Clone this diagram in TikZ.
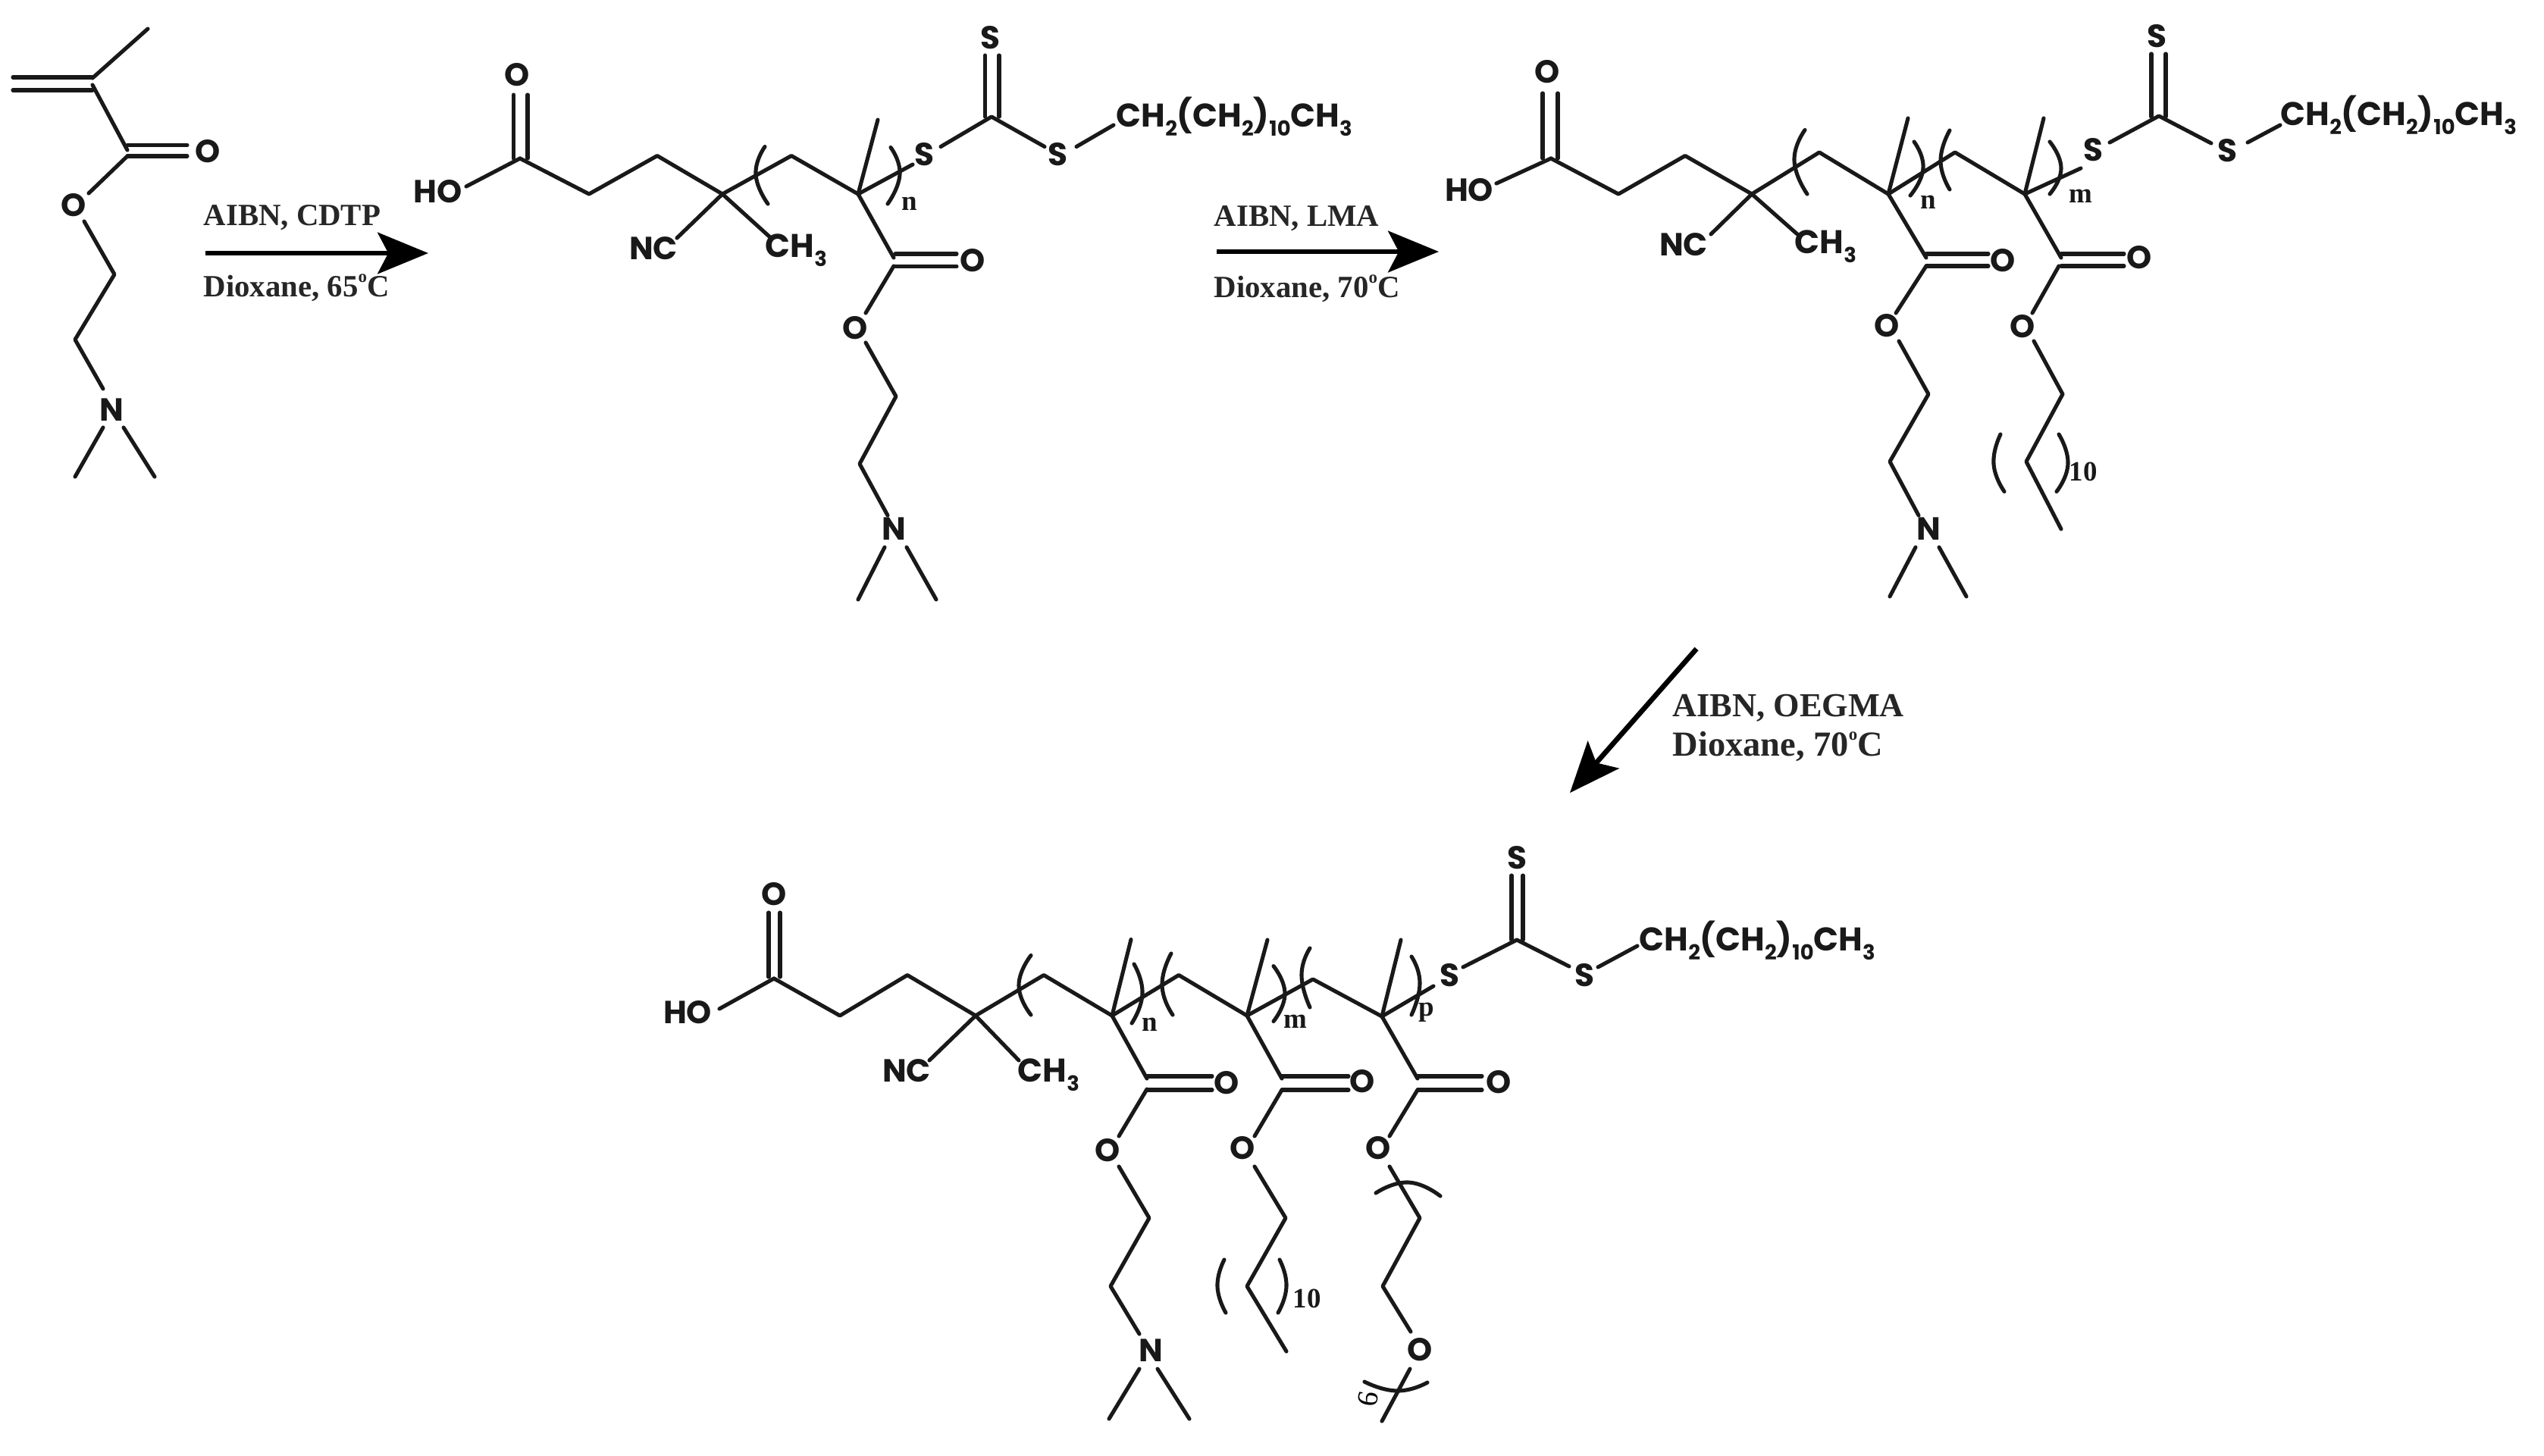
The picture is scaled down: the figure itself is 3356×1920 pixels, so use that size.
\documentclass[tikz,border=0pt]{standalone}
\usepackage{fontspec}
\usetikzlibrary{arrows.meta}
\setmainfont{Liberation Serif}
\newfontfamily\atomfam{Poppins}
\newcommand{\sbs}[1]{\raisebox{-0.3em}{\fontsize{7.8}{8}\selectfont #1}}
\newcommand{\dg}{\raisebox{0.45em}{\fontsize{6.5}{6.5}\selectfont o}}
\tikzset{
  bond/.style={line width=1.45pt,line cap=round,line join=round,draw=black!90},
  atom/.style={font=\atomfam\bfseries\fontsize{12}{12}\selectfont,inner sep=0pt,text=black!90},
  chain/.style={font=\atomfam\bfseries\fontsize{12.3}{12.3}\selectfont,inner sep=0pt,text=black!90,anchor=base west},
  rep/.style={font=\fontsize{10.5}{10.5}\selectfont\bfseries,inner sep=0pt,text=black!90},
  cond/.style={font=\fontsize{11.6}{11.6}\selectfont\bfseries,inner sep=0pt,anchor=base west,text=black!85},
  condb/.style={font=\fontsize{12.6}{12.6}\selectfont\bfseries,inner sep=0pt,anchor=base west,text=black!85},
  condc/.style={font=\fontsize{13.2}{13.2}\selectfont\bfseries,inner sep=0pt,anchor=base west,text=black!85},
  rxn/.style={line width=1.9pt,draw=black,-{Stealth[length=19pt,width=15.5pt,inset=4pt]}},
}
\newcommand{\paren}[3]{\draw[bond] plot[smooth,tension=0.9] coordinates {#1 #2 #3};}
\begin{document}
\begin{tikzpicture}[x=0.01cm,y=-0.01cm]
\useasboundingbox (0,0) rectangle (3356,1920);
\fill[white] (0,0) rectangle (3356,1920);

% ---------- monomer ----------
\draw[bond] (17,102)--(122,102) (17,119)--(122,119);
\draw[bond] (122,103)--(195,38);
\draw[bond] (122,112)--(168,198);
\draw[bond] (168,191.5)--(247,191.5) (168,206)--(247,206);
\draw[bond] (168,206)--(117,255);
\draw[bond] (111,292)--(151,362)--(99,448)--(136,513);
\draw[bond] (136,564)--(99,629) (163,564)--(204,629);
\node[atom] (m1o1) at (274,200) {O};
\node[atom] (m1o2) at (97,271) {O};
\node[atom] (m1n) at (147,541) {N};

% ---------- arrow 1 ----------
\coordinate (a1s) at (271,334); \coordinate (a1e) at (565,334);
\draw[rxn] (a1s)--(a1e);
\node[cond] (c1a) at (268,297) {AIBN, CDTP};
\node[cond] (c1b) at (268,391) {Dioxane, 65\dg C};

% ---------- polymer 1 ----------
\draw[bond] (615,246)--(686,209);
\draw[bond] (677.5,125)--(677.5,209) (696,125)--(696,209);
\draw[bond] (686,209)--(777,256)--(867,205.5)--(953,256)--(1044,205.5)--(1132,256)--(1204,217);
\draw[bond] (1132,256)--(1158,158);
\paren{(1009,193.5)}{(997,230)}{(1013,269)}
\paren{(1175,194.5)}{(1187,230)}{(1171,269)}
\node[rep] (p1n) at (1200,269) {n};
\draw[bond] (953,256)--(893,314) (953,256)--(1017,314);
\draw[bond] (1132,256)--(1179,340);
\draw[bond] (1181,335)--(1262,335) (1181,351.5)--(1262,351.5);
\draw[bond] (1179,351)--(1142,413);
\draw[bond] (1142,452)--(1182,523)--(1134,612)--(1171,680);
\draw[bond] (1167,722)--(1132,791) (1196,722)--(1235,791);
\draw[bond] (1299.5,73)--(1299.5,154) (1318,73)--(1318,154);
\draw[bond] (1241,193.5)--(1308,154)--(1378,193.5);
\draw[bond] (1420,193.5)--(1469,165);
\node[atom] (p1ho) at (578,253) {HO};
\node[atom] (p1o0) at (682,99) {O};
\node[atom] (p1nc) at (862,328) {NC};
\node[chain] (p1me) at (1009,339) {CH\sbs{3}};
\node[atom] (p1o1) at (1283,344) {O};
\node[atom] (p1o2) at (1128,433) {O};
\node[atom] (p1N) at (1179,698) {N};
\node[atom] (p1s0) at (1306,50) {S};
\node[atom] (p1s1) at (1219,204) {S};
\node[atom] (p1s2) at (1395,204) {S};
\node[chain] (p1t) at (1472,167) {CH\sbs{2}(CH\sbs{2})\sbs{10}CH\sbs{3}};

% ---------- arrow 2 ----------
\coordinate (a2s) at (1605,332); \coordinate (a2e) at (1898,332);
\draw[rxn] (a2s)--(a2e);
\node[cond] (c2a) at (1601,298) {AIBN, LMA};
\node[cond] (c2b) at (1601,392) {Dioxane, 70\dg C};

% ---------- polymer 2 ----------
\draw[bond] (1974,242)--(2046,209);
\draw[bond] (2035,123)--(2035,209) (2055,123)--(2055,209);
\draw[bond] (2046,209)--(2135,256)--(2223,205.5)--(2311,256)--(2400,201)--(2491,256)--(2579,201)--(2671,256)--(2745,222);
\draw[bond] (2491,256)--(2517,156) (2671,256)--(2696,156);
\paren{(2381,171.5)}{(2367,212)}{(2384,256)}
\paren{(2525,187)}{(2537,222)}{(2520,258)}
\paren{(2572,172)}{(2560,212)}{(2572,250)}
\paren{(2704,187)}{(2719,222)}{(2704,256)}
\node[rep] (p2n) at (2544,267) {n};
\node[rep] (p2m) at (2745,259) {m};
\draw[bond] (2311,256)--(2257,309) (2311,256)--(2371,309);
\draw[bond] (2491,256)--(2541,340);
\draw[bond] (2541,335)--(2623,335) (2541,351)--(2623,351);
\draw[bond] (2541,351)--(2501,413);
\draw[bond] (2505,450)--(2544,520)--(2493,609)--(2531,680);
\draw[bond] (2527,722)--(2493,787) (2558,722)--(2594,787);
\draw[bond] (2671,256)--(2719,340);
\draw[bond] (2719,335)--(2802,335) (2719,351)--(2802,351);
\draw[bond] (2716,351)--(2681,413);
\draw[bond] (2683,450)--(2721,520)--(2673,609)--(2719,698);
\paren{(2639,573)}{(2630,612)}{(2644,648.5)}
\paren{(2716,573)}{(2728,612)}{(2713,648.5)}
\node[rep] (p2x) at (2748,622) {10};
\draw[bond] (2838,71)--(2838,154) (2857,71)--(2857,154);
\draw[bond] (2783,188)--(2848,153)--(2917,189);
\draw[bond] (2965,188)--(3008,165);
\node[atom] (p2ho) at (1938,251) {HO};
\node[atom] (p2o0) at (2041,95) {O};
\node[atom] (p2nc) at (2221,323) {NC};
\node[chain] (p2me) at (2367,334) {CH\sbs{3}};
\node[atom] (p2o1) at (2642,344) {O};
\node[atom] (p2o2) at (2489,430) {O};
\node[atom] (p2N) at (2544,698) {N};
\node[atom] (p2o3) at (2822,340) {O};
\node[atom] (p2o4) at (2668,431) {O};
\node[atom] (p2s0) at (2845,48) {S};
\node[atom] (p2s1) at (2761,198) {S};
\node[atom] (p2s2) at (2938,199) {S};
\node[chain] (p2t) at (3008,165) {CH\sbs{2}(CH\sbs{2})\sbs{10}CH\sbs{3}};

% ---------- arrow 3 ----------
\coordinate (a3s) at (2238,856); \coordinate (a3e) at (2071,1046);
\draw[rxn] (a3s)--(a3e);
\node[condb] (c3a) at (2206,945) {AIBN, OEGMA};
\node[condc] (c3b) at (2206,997) {Dioxane, 70\dg C};

% ---------- polymer 3 ----------
\draw[bond] (949,1331)--(1021,1291);
\draw[bond] (1014,1204)--(1014,1289) (1029,1204)--(1029,1289);
\draw[bond] (1021,1291)--(1108,1340)--(1197,1286.5)--(1287,1340)--(1377,1286.5)--(1467,1340)--(1555,1286.5)--(1645,1340)--(1732,1292)--(1823,1341)--(1891,1301);
\draw[bond] (1467,1340)--(1492,1239.5) (1645,1340)--(1672,1240) (1823,1341)--(1848,1240);
\paren{(1360,1260.5)}{(1344,1300)}{(1360,1339)}
\paren{(1496,1272)}{(1507,1311)}{(1493,1350)}
\paren{(1545,1258)}{(1533,1300)}{(1547,1339)}
\paren{(1680,1274.6)}{(1695,1311)}{(1680,1347.5)}
\paren{(1728,1251)}{(1717,1286.5)}{(1728,1329)}
\paren{(1862,1262)}{(1873,1297)}{(1862,1339)}
\node[rep] (p3n) at (1517,1352) {n};
\node[rep] (p3m) at (1709,1348) {m};
\node[rep] (p3p) at (1882,1336) {p};
\draw[bond] (1287,1340)--(1226,1399) (1287,1340)--(1344,1399);
\draw[bond] (1467,1340)--(1513,1423);
\draw[bond] (1513,1420)--(1599,1420) (1513,1438)--(1599,1438);
\draw[bond] (1513,1437)--(1476,1499);
\draw[bond] (1476,1539)--(1516,1607)--(1465,1697)--(1503,1760);
\draw[bond] (1503,1806)--(1463,1872) (1527,1806)--(1569,1872);
\draw[bond] (1645,1340)--(1691,1423);
\draw[bond] (1691,1420)--(1779,1420) (1691,1438)--(1779,1438);
\draw[bond] (1691,1438)--(1655,1499);
\draw[bond] (1655,1539)--(1696,1607)--(1645,1697)--(1697,1783);
\paren{(1615,1662)}{(1606,1697)}{(1617,1732)}
\paren{(1688,1662)}{(1697,1697)}{(1686,1732)}
\node[rep] (p3x) at (1724,1713) {10};
\draw[bond] (1823,1341)--(1870,1423);
\draw[bond] (1870,1420)--(1955,1420) (1870,1438)--(1955,1438);
\draw[bond] (1870,1438)--(1833,1499);
\draw[bond] (1833,1539)--(1873,1607)--(1824,1697)--(1861,1757);
\draw[bond] (1860,1806)--(1823,1875);
\draw[bond] plot[smooth,tension=0.9] coordinates {(1815,1574) (1858,1560) (1900,1578)};
\draw[bond] plot[smooth,tension=0.9] coordinates {(1800,1823) (1843,1835) (1883,1824)};
\draw[bond] (1994,1155)--(1994,1240) (2009,1155)--(2009,1240);
\draw[bond] (1930,1276)--(2001,1240)--(2070,1275);
\draw[bond] (2108,1276)--(2160,1248);
\node[atom] (p3ho) at (907,1336) {HO};
\node[atom] (p3o0) at (1021,1180) {O};
\node[atom] (p3nc) at (1196,1413) {NC};
\node[chain] (p3me) at (1342,1427) {CH\sbs{3}};
\node[atom] (p3o1) at (1618,1429) {O};
\node[atom] (p3o2) at (1461,1518) {O};
\node[atom] (p3N) at (1518,1782) {N};
\node[atom] (p3o3) at (1797,1427) {O};
\node[atom] (p3o4) at (1639,1515) {O};
\node[atom] (p3o5) at (1977,1428) {O};
\node[atom] (p3o6) at (1818,1515) {O};
\node[atom] (p3o7) at (1873,1781) {O};
\node[font=\fontsize{11}{11}\selectfont,inner sep=0pt,rotate=80] (p3six) at (1805,1846) {6};
\node[atom] (p3s0) at (2001,1132) {S};
\node[atom] (p3s1) at (1912,1287) {S};
\node[atom] (p3s2) at (2090,1287) {S};
\node[chain] (p3t) at (2162,1254) {CH\sbs{2}(CH\sbs{2})\sbs{10}CH\sbs{3}};
\end{tikzpicture}
\end{document}
